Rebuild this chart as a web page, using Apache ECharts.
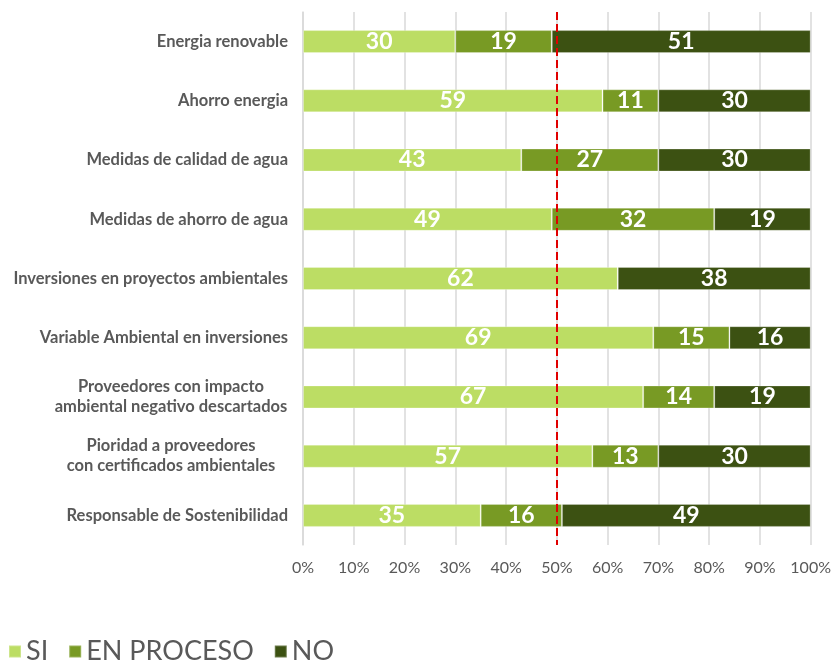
<!DOCTYPE html>
<html>
<head>
<meta charset="utf-8">
<script src="https://cdn.jsdelivr.net/npm/echarts@6/dist/echarts.min.js"></script>
<style>
  html, body { margin: 0; padding: 0; background: #fff; }
  #chart { width: 834px; height: 661px; }
</style>
</head>
<body>
<div id="chart"></div>
<script>
// Categories, top to bottom
const categories = [
  'Energia renovable',
  'Ahorro energia',
  'Medidas de calidad de agua',
  'Medidas de ahorro de agua',
  'Inversiones en proyectos ambientales',
  'Variable Ambiental en inversiones',
  'Proveedores con impacto\nambiental negativo descartados',
  'Pioridad a proveedores\ncon certificados ambientales',
  'Responsable de Sostenibilidad'
];
// Percent of answers per category
const siValues        = [30, 59, 43, 49, 62, 69, 67, 57, 35];
const enProcesoValues = [19, 11, 27, 32, 0, 15, 14, 13, 16];
const noValues        = [51, 30, 30, 19, 38, 16, 19, 30, 49];
const tickLabels = ['0%','10%','20%','30%','40%','50%','60%','70%','80%','90%','100%'];
const seriesNames = ['SI', 'EN PROCESO', 'NO'];
const colors = ['#BCDD64', '#789A24', '#3C5112'];

const font = 'Lato, "Open Sans", sans-serif';
const catFontSize = 16.5;

// Measure text so that multi-line category labels can be centred line by line
// while the whole block stays right-aligned against the axis.
const measureCtx = document.createElement('canvas').getContext('2d');
function textWidth(str) {
  measureCtx.font = 'bold ' + catFontSize + 'px ' + font;
  return measureCtx.measureText(str).width;
}
function catLabel(value) {
  const lines = value.split('\n');
  if (lines.length === 1) return value;
  return lines.map(l => '{c|' + l + '}').join('\n');
}
const blockWidth = Math.ceil(Math.max(...categories.filter(c => c.includes('\n'))
  .flatMap(c => c.split('\n')).map(textWidth))) + 1;

function makeSeries(name, values, color, withLine) {
  const s = {
    name: name,
    type: 'bar',
    stack: 'total',
    barWidth: 23,
    data: values,
    itemStyle: { color: color, borderColor: 'rgba(255,255,255,0.25)', borderWidth: 1 },
    label: {
      show: true,
      position: 'inside',
      color: '#fff',
      fontFamily: font,
      fontWeight: 'bold',
      fontSize: 23,
      formatter: p => (p.value > 0 ? p.value : '')
    },
    emphasis: { disabled: true }
  };
  if (withLine) {
    s.markLine = {
      silent: true,
      symbol: 'none',
      label: { show: false },
      lineStyle: { color: '#E00000', type: [8, 4], width: 2 },
      data: [{ xAxis: 50 }]
    };
  }
  return s;
}

const chart = echarts.init(document.getElementById('chart'));
chart.setOption({
  animation: false,
  color: colors,
  grid: { left: 303, right: 23, top: 12, bottom: 116, containLabel: false },
  legend: {
    left: 3,
    top: 633,
    itemWidth: 12,
    itemHeight: 12,
    itemGap: 20,
    icon: 'rect',
    textStyle: { fontFamily: font, fontSize: 27, color: '#595959' },
    data: seriesNames
  },
  xAxis: {
    type: 'value',
    min: 0,
    max: 100,
    interval: 10,
    axisLine: { show: false },
    axisTick: { show: false },
    splitLine: { show: true, lineStyle: { color: '#D9D9D9', width: 1.5 } },
    axisLabel: {
      margin: 15,
      fontFamily: font,
      fontSize: 16,
      color: '#595959',
      formatter: v => tickLabels[Math.round(v / 10)]
    }
  },
  yAxis: {
    type: 'category',
    inverse: true,
    data: categories,
    axisLine: { show: true, lineStyle: { color: '#D9D9D9', width: 1.5 } },
    axisTick: { show: false },
    axisLabel: {
      margin: 15,
      fontFamily: font,
      fontWeight: 'bold',
      fontSize: catFontSize,
      lineHeight: 20,
      align: 'right',
      color: '#595959',
      formatter: catLabel,
      rich: {
        c: {
          width: blockWidth,
          align: 'center',
          fontFamily: font,
          fontWeight: 'bold',
          fontSize: catFontSize,
          lineHeight: 20,
          color: '#595959'
        }
      }
    }
  },
  series: [
    makeSeries(seriesNames[0], siValues, colors[0], false),
    makeSeries(seriesNames[1], enProcesoValues, colors[1], false),
    makeSeries(seriesNames[2], noValues, colors[2], true)
  ]
});
</script>
</body>
</html>
